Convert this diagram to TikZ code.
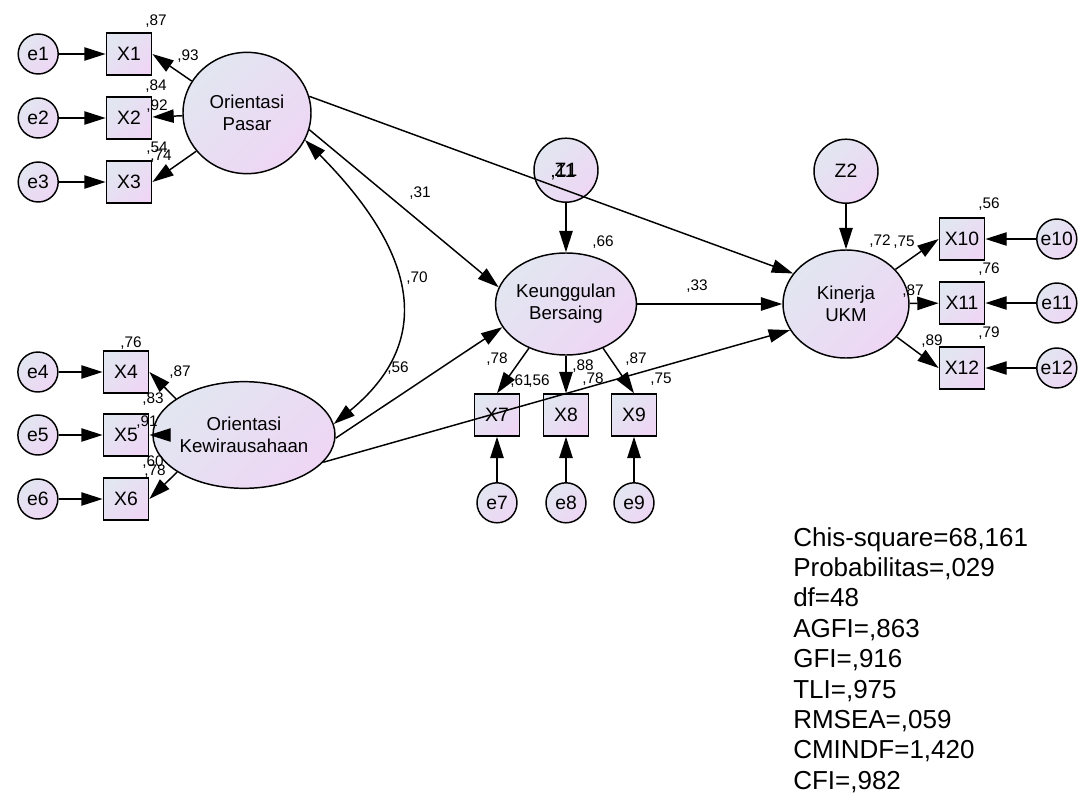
\documentclass[tikz,border=0pt]{standalone}
\usepackage{fontspec}
\setmainfont{Liberation Sans}
\usepackage{xcolor}
\usepackage{tikz}
\usetikzlibrary{shapes,arrows.meta,positioning}

\definecolor{semTop}{RGB}{226,230,241}
\definecolor{semBot}{RGB}{238,214,244}

\begin{document}
\begin{tikzpicture}[
    x=0.75pt, y=-0.75pt,
    shadebox/.style={top color=semTop, bottom color=semBot, shading angle=45},
    latent/.style={ellipse, draw, line width=1.1pt, shadebox, align=center, inner sep=0pt, font=\fontsize{14}{16.3}\selectfont},
    obs/.style={rectangle, draw, line width=1.1pt, shadebox, minimum width=34pt, minimum height=31.5pt, inner sep=0pt, font=\fontsize{14.5}{16}\selectfont},
    err/.style={circle, draw, line width=1.1pt, shadebox, minimum size=30pt, inner sep=0pt, font=\fontsize{14.5}{16}\selectfont},
    arrow/.style={-{Triangle[length=16pt,width=10pt]}, line width=1.1pt},
    cov/.style={{Triangle[length=16pt,width=10pt]}-{Triangle[length=16pt,width=10pt]}, line width=1.1pt},
    coef/.style={font=\fontsize{11.5}{12}\selectfont, inner sep=0pt}
]
\useasboundingbox (0,0) rectangle (1083,796);

% Latent variables
\node[latent, minimum width=96pt, minimum height=91pt] (OP) at (247,113) {Orientasi\\Pasar};
\node[latent, minimum width=116pt, minimum height=80pt] (OK) at (244,435) {Orientasi\\Kewirausahaan};
\node[latent, minimum width=103.5pt, minimum height=76.5pt] (KB) at (566,304) {Keunggulan\\Bersaing};
\node[latent, minimum width=94.5pt, minimum height=81pt] (KU) at (846,304) {Kinerja\\UKM};

% Disturbances
\node[err, minimum size=48pt, above=37pt of KB] (Z1) {Z1};
\node[err, minimum size=48pt, above=34pt of KU] (Z2) {Z2};
\node[font=\fontsize{14.5}{16}\selectfont, inner sep=0pt] (Z1v) at (563,172) {,11};

% Indicators
\node[obs] (X1) at (129,54) {X1};
\node[obs] (X2) at (129,118) {X2};
\node[obs] (X3) at (129,182) {X3};
\node[obs] (X4) at (126,372) {X4};
\node[obs] (X5) at (126,435) {X5};
\node[obs] (X6) at (126,499) {X6};
\node[obs] (X7) at (497,415) {X7};
\node[obs] (X8) at (566,415) {X8};
\node[obs] (X9) at (634,415) {X9};
\node[obs] (X10) at (962,239) {X10};
\node[obs] (X11) at (962,303) {X11};
\node[obs] (X12) at (962,368) {X12};

% Error terms
\node[err, left=35pt of X1] (e1) {e1};
\node[err, left=35pt of X2] (e2) {e2};
\node[err, left=35pt of X3] (e3) {e3};
\node[err, left=33pt of X4] (e4) {e4};
\node[err, left=33pt of X5] (e5) {e5};
\node[err, left=33pt of X6] (e6) {e6};
\node[err, below=34pt of X7] (e7) {e7};
\node[err, below=34pt of X8] (e8) {e8};
\node[err, below=34pt of X9] (e9) {e9};
\node[err, right=38pt of X10] (e10) {e10};
\node[err, right=38pt of X11] (e11) {e11};
\node[err, right=38pt of X12] (e12) {e12};

% Error arrows
\draw[arrow] (e1) -- (X1);
\draw[arrow] (e2) -- (X2);
\draw[arrow] (e3) -- (X3);
\draw[arrow] (e4) -- (X4);
\draw[arrow] (e5) -- (X5);
\draw[arrow] (e6) -- (X6);
\draw[arrow] (e7) -- (X7);
\draw[arrow] (e8) -- (X8);
\draw[arrow] (e9) -- (X9);
\draw[arrow] (e10) -- (X10);
\draw[arrow] (e11) -- (X11);
\draw[arrow] (e12) -- (X12);
\draw[arrow] (Z1) -- (KB);
\draw[arrow] (Z2) -- (KU);

% Loadings
\draw[arrow] (OP.150) -- (X1.east);
\draw[arrow] (OP) -- (X2);
\draw[arrow] (OP.217) -- (X3.east);
\draw[arrow] (OK.152) -- (X4.east);
\draw[arrow] (OK) -- (X5);
\draw[arrow] (OK.209) -- (X6.east);
\draw[arrow] (KB.-130) -- (X7.north);
\draw[arrow] (KB) -- (X8);
\draw[arrow] (KB.-50) -- (X9.north);
\draw[arrow] (KU.35) -- (X10.west);
\draw[arrow] (KU) -- (X11);
\draw[arrow] (KU.-33) -- (X12.west);

% Structural paths
\draw[arrow] (OP.-15) -- (KB.166);
\draw[arrow] (OP.15) -- (KU.150);
\draw[arrow] (OK.-2) -- (KB.200);
\draw[arrow] (OK.-19) -- (KU.205);
\draw[arrow] (KB) -- (KU);
\draw[cov] (OP.-25) .. controls (416,252) and (436,340) .. (OK.7);

% Estimates
\node[coef] (r1) at (156,21) {,87};
\node[coef] (l1) at (188,56) {,93};
\node[coef] (r2) at (156,86) {,84};
\node[coef] (l2) at (157,106) {,92};
\node[coef] (r3) at (157,148) {,54};
\node[coef] (l3) at (161,156) {,74};
\node[coef] (r4) at (131,343) {,76};
\node[coef] (l4) at (180,372) {,87};
\node[coef] (r5) at (153,399) {,83};
\node[coef] (l5) at (147,422) {,91};
\node[coef] (r6) at (153,462) {,60};
\node[coef] (l6) at (155,471) {,78};
\node[coef] (l7) at (497,359) {,78};
\node[coef] (r7) at (521,381) {,61};
\node[coef] (p5) at (539,381) {,56};
\node[coef] (l8) at (583,366) {,88};
\node[coef] (r8) at (593,379) {,78};
\node[coef] (l9) at (636,359) {,87};
\node[coef] (r9) at (661,379) {,75};
\node[coef] (rKB) at (603,242) {,66};
\node[coef] (rKU) at (880,241) {,72};
\node[coef] (l10) at (904,242) {,75};
\node[coef] (r10) at (989,204) {,56};
\node[coef] (r11) at (989,269) {,76};
\node[coef] (l11) at (913,291) {,87};
\node[coef] (r12) at (989,333) {,79};
\node[coef] (l12) at (932,341) {,89};
\node[coef] (p1) at (420,193) {,31};
\node[coef] (p2) at (417,278) {,70};
\node[coef] (p3) at (398,368) {,56};
\node[coef] (p4) at (697,286) {,33};

% Fit indices
\node[anchor=north west, align=left, inner sep=0pt, font=\fontsize{19.5}{22.8}\selectfont] (fit) at (793,527) {
    Chis-square=68,161\\
    Probabilitas=,029\\
    df=48\\
    AGFI=,863\\
    GFI=,916\\
    TLI=,975\\
    RMSEA=,059\\
    CMINDF=1,420\\
    CFI=,982
};

\end{tikzpicture}
\end{document}
